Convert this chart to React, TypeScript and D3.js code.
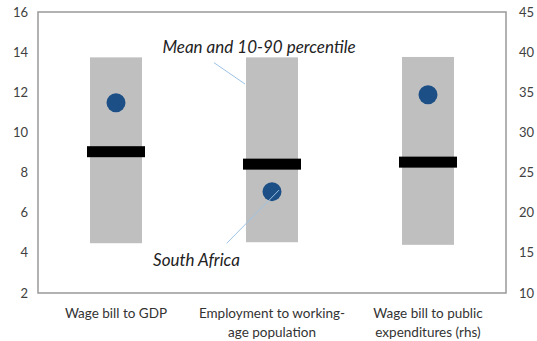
import React from "react";
import * as d3 from "d3";

const categories: string[][] = [
  ["Wage bill to GDP"],
  ["Employment to working-", "age population"],
  ["Wage bill to public", "expenditures (rhs)"],
];
const axisSide = ["left", "left", "right"];
const p10 = [4.48, 4.53, 16.0];
const p90 = [13.74, 13.74, 39.4];
const meanValues = [9.04, 8.42, 26.3];
const southAfrica = [11.48, 7.05, 34.7];
const leftTicks = [2, 4, 6, 8, 10, 12, 14, 16];
const rightTicks = [10, 15, 20, 25, 30, 35, 40, 45];

const W = 537;
const H = 341;
const M = { left: 38, right: 31, top: 12, bottom: 48 };

export default function App() {
  const x = d3
    .scaleBand<number>()
    .domain(categories.map((_, i) => i))
    .range([M.left, W - M.right])
    .paddingInner(0)
    .paddingOuter(0);
  const yL = d3.scaleLinear().domain([2, 16]).range([H - M.bottom, M.top]);
  const yR = d3.scaleLinear().domain([10, 45]).range([H - M.bottom, M.top]);
  const yOf = (i: number) => (axisSide[i] === "right" ? yR : yL);
  const bw = x.bandwidth();
  const barW = bw / 3;
  const meanW = barW + 6;
  const font = "Lato, 'Open Sans', sans-serif";
  const cx = (i: number) => (x(i) as number) + bw / 2;

  const saX = cx(1);
  const saY = yOf(1)(southAfrica[1]);

  return (
    <div style={{ position: "absolute", left: 0, top: 0 }}>
      <svg width={W} height={H} style={{ display: "block", background: "#fff" }}>
        {categories.map((_, i) => {
          const y = yOf(i);
          return (
            <g key={i}>
              <rect
                x={cx(i) - barW / 2}
                y={y(p90[i])}
                width={barW}
                height={y(p10[i]) - y(p90[i])}
                fill="#bfbfbf"
              />
              <rect
                x={cx(i) - meanW / 2}
                y={y(meanValues[i]) - 5.5}
                width={meanW}
                height={11}
                fill="#000"
              />
              <circle cx={cx(i)} cy={y(southAfrica[i])} r={9.5} fill="#1c4f86" />
            </g>
          );
        })}
        <rect
          x={M.left}
          y={M.top}
          width={W - M.left - M.right}
          height={H - M.top - M.bottom}
          fill="none"
          stroke="#999"
          strokeWidth={1.5}
        />
        {leftTicks.map((t) => (
          <text
            key={"l" + t}
            x={28}
            y={yL(t)}
            dy="0.35em"
            textAnchor="end"
            fontFamily={font}
            fontSize={13}
            fill="#404040"
          >
            {t}
          </text>
        ))}
        {rightTicks.map((t) => (
          <text
            key={"r" + t}
            x={519}
            y={yR(t)}
            dy="0.35em"
            textAnchor="start"
            fontFamily={font}
            fontSize={13}
            fill="#404040"
          >
            {t}
          </text>
        ))}
        {categories.map((lines, i) => (
          <text
            key={"c" + i}
            x={cx(i)}
            y={318}
            textAnchor="middle"
            fontFamily={font}
            fontSize={13.5}
            fill="#333"
          >
            {lines.map((l, j) => (
              <tspan key={j} x={cx(i)} dy={j === 0 ? 0 : 18.5}>
                {l}
              </tspan>
            ))}
          </text>
        ))}
        <line x1={214} y1={62.7} x2={245} y2={84} stroke="#9dc3e6" strokeWidth={1} />
        <text
          x={259}
          y={53}
          textAnchor="middle"
          fontFamily={font}
          fontStyle="italic"
          fontSize={17}
          fill="#222"
        >
          Mean and 10-90 percentile
        </text>
        <line x1={226.7} y1={243.3} x2={saX + 7} y2={saY - 1.5} stroke="#9dc3e6" strokeWidth={1} />
        <text
          x={196.5}
          y={266}
          textAnchor="middle"
          fontFamily={font}
          fontStyle="italic"
          fontSize={17}
          fill="#222"
        >
          South Africa
        </text>
      </svg>
    </div>
  );
}
